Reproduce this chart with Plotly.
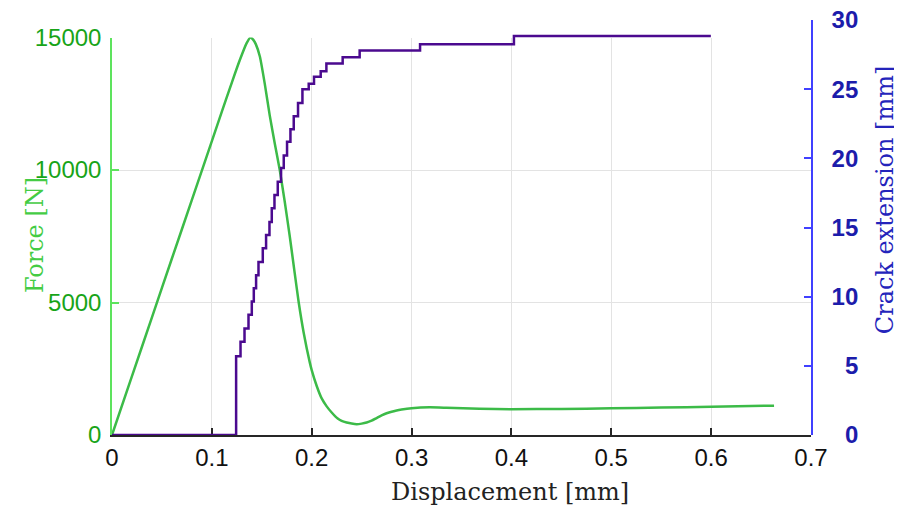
import plotly.graph_objects as go

# ---- data ----
disp_force = [0, 0.02, 0.04, 0.06, 0.08, 0.10, 0.11, 0.12, 0.128, 0.1347, 0.1387, 0.1413,
              0.144, 0.148, 0.153, 0.158, 0.163, 0.168, 0.173, 0.178, 0.183, 0.187, 0.192,
              0.198, 0.2, 0.205, 0.21, 0.215, 0.22, 0.226, 0.23, 0.235, 0.24, 0.245, 0.25,
              0.255, 0.26, 0.265, 0.27, 0.275, 0.28, 0.285, 0.29, 0.3, 0.318, 0.335, 0.368,
              0.4, 0.45, 0.5, 0.55, 0.6, 0.663]
force = [0, 2220, 4440, 6660, 8870, 11090, 12200, 13300, 14150, 14780, 15000, 14920,
         14750, 14290, 13250, 12050, 11000, 10000, 8800, 7500, 6100, 5000, 3850,
         2750, 2450, 1850, 1380, 1080, 850, 620, 530, 470, 430, 410, 430,
         470, 540, 640, 740, 820, 880, 925, 960, 1010, 1045, 1030, 990,
         975, 985, 1005, 1035, 1065, 1107]

disp_crack = [0, 0.1243, 0.1287, 0.1327, 0.1367, 0.1400, 0.1420, 0.1443, 0.1467, 0.1510,
              0.1543, 0.1577, 0.1600, 0.1627, 0.1660, 0.1693, 0.1720, 0.1753, 0.1787,
              0.1820, 0.1863, 0.1907, 0.1970, 0.2023, 0.2090, 0.2147, 0.2310, 0.2480,
              0.3085, 0.4025, 0.5997]
crack = [0, 5.7, 6.75, 7.7, 8.7, 9.65, 10.6, 11.55, 12.5, 13.5,
         14.45, 15.4, 16.4, 17.35, 18.3, 19.3, 20.2, 21.2, 22.1,
         23.05, 24.0, 25.0, 25.4, 25.9, 26.3, 26.85, 27.3, 27.8,
         28.25, 28.85, 28.85]

x_ticks = [0, 0.1, 0.2, 0.3, 0.4, 0.5, 0.6, 0.7]
x_ticklabels = ["0", "0.1", "0.2", "0.3", "0.4", "0.5", "0.6", "0.7"]
force_ticks = [0, 5000, 10000, 15000]
force_ticklabels = ["0", "5000", "10000", "15000"]
crack_ticks = [0, 5, 10, 15, 20, 25, 30]
crack_ticklabels = ["\u20070", "\u20075", "10", "15", "20", "25", "30"]

# ---- styles ----
GREEN_LINE = "#3cbb48"
GREEN_TICK = "#18a418"
GREEN_AXIS = "#5de35d"
GREEN_TITLE = "#44cc44"
PURPLE = "#4b0a8f"
BLUE_AXIS = "#4040ff"
BLUE_TICK = "#1c1cab"
BLUE_TITLE = "#2424bb"

fig = go.Figure()
fig.add_trace(go.Scatter(x=disp_force, y=force, mode="lines",
                         line=dict(color=GREEN_LINE, width=2.5, shape="spline", smoothing=0.5),
                         xaxis="x", yaxis="y", showlegend=False, hoverinfo="skip"))
fig.add_trace(go.Scatter(x=disp_crack, y=crack, mode="lines",
                         line=dict(color=PURPLE, width=2.5, shape="hv"),
                         xaxis="x2", yaxis="y2", showlegend=False, hoverinfo="skip"))

top_frac = (435 - 37.5) / 415.0

# page body has an 8px offset; margins compensate so the plot box lands at 112..811 x 20..435
fig.update_layout(
    width=902, height=510,
    margin=dict(l=104, r=99, t=12, b=83, pad=0, autoexpand=False),
    paper_bgcolor="white", plot_bgcolor="rgba(0,0,0,0)",
    font=dict(family="Liberation Sans, Arial, sans-serif"),
    xaxis=dict(range=[0, 0.7], tickvals=x_ticks, ticktext=x_ticklabels,
               showgrid=True, gridcolor="#e3e3e3", gridwidth=1, zeroline=False,
               showline=True, linecolor="#262626", linewidth=1.5,
               ticks="inside", ticklen=7, tickcolor="#262626", tickwidth=1.5,
               tickfont=dict(size=24, color="#111111"), anchor="y",
               ticklabeloverflow="allow"),
    xaxis2=dict(range=[0, 0.7], overlaying="x", matches="x", visible=False,
                showgrid=False, anchor="y2"),
    yaxis=dict(range=[0, 15000], domain=[0, top_frac], tickvals=force_ticks,
               ticktext=force_ticklabels,
               showgrid=True, gridcolor="#e3e3e3", gridwidth=1, zeroline=False,
               showline=True, linecolor=GREEN_AXIS, linewidth=1.5,
               ticks="inside", ticklen=7, tickcolor=GREEN_AXIS, tickwidth=1.5,
               tickfont=dict(size=24, color=GREEN_TICK), ticklabelstandoff=4,
               anchor="x", ticklabeloverflow="allow"),
    yaxis2=dict(range=[0, 30], domain=[0, 1], tickvals=crack_ticks, ticktext=crack_ticklabels,
                side="right", anchor="x2", showgrid=False, zeroline=False,
                showline=True, linecolor=BLUE_AXIS, linewidth=1.5,
                ticks="inside", ticklen=7, tickcolor=BLUE_AXIS, tickwidth=1.5,
                tickfont=dict(size=24, color=BLUE_TICK, weight="bold"),
                ticklabelstandoff=14, ticklabeloverflow="allow"),
    annotations=[
        dict(text="Displacement [mm]", xref="paper", yref="paper", x=0.569, y=-0.137,
             xanchor="center", yanchor="middle", showarrow=False,
             font=dict(family="DejaVu Serif", size=24, color="#222222")),
        dict(text="Force [N]", xref="paper", x=-0.110, y=0.482, yref="paper",
             xanchor="center", yanchor="middle", textangle=-90, showarrow=False,
             font=dict(family="DejaVu Serif", size=24, color=GREEN_TITLE)),
        dict(text="Crack extension [mm]", xref="paper", x=1.106, y=0.566, yref="paper",
             xanchor="center", yanchor="middle", textangle=-90, showarrow=False,
             font=dict(family="DejaVu Serif", size=24, color=BLUE_TITLE)),
    ],
)

fig.write_html("out.html")
